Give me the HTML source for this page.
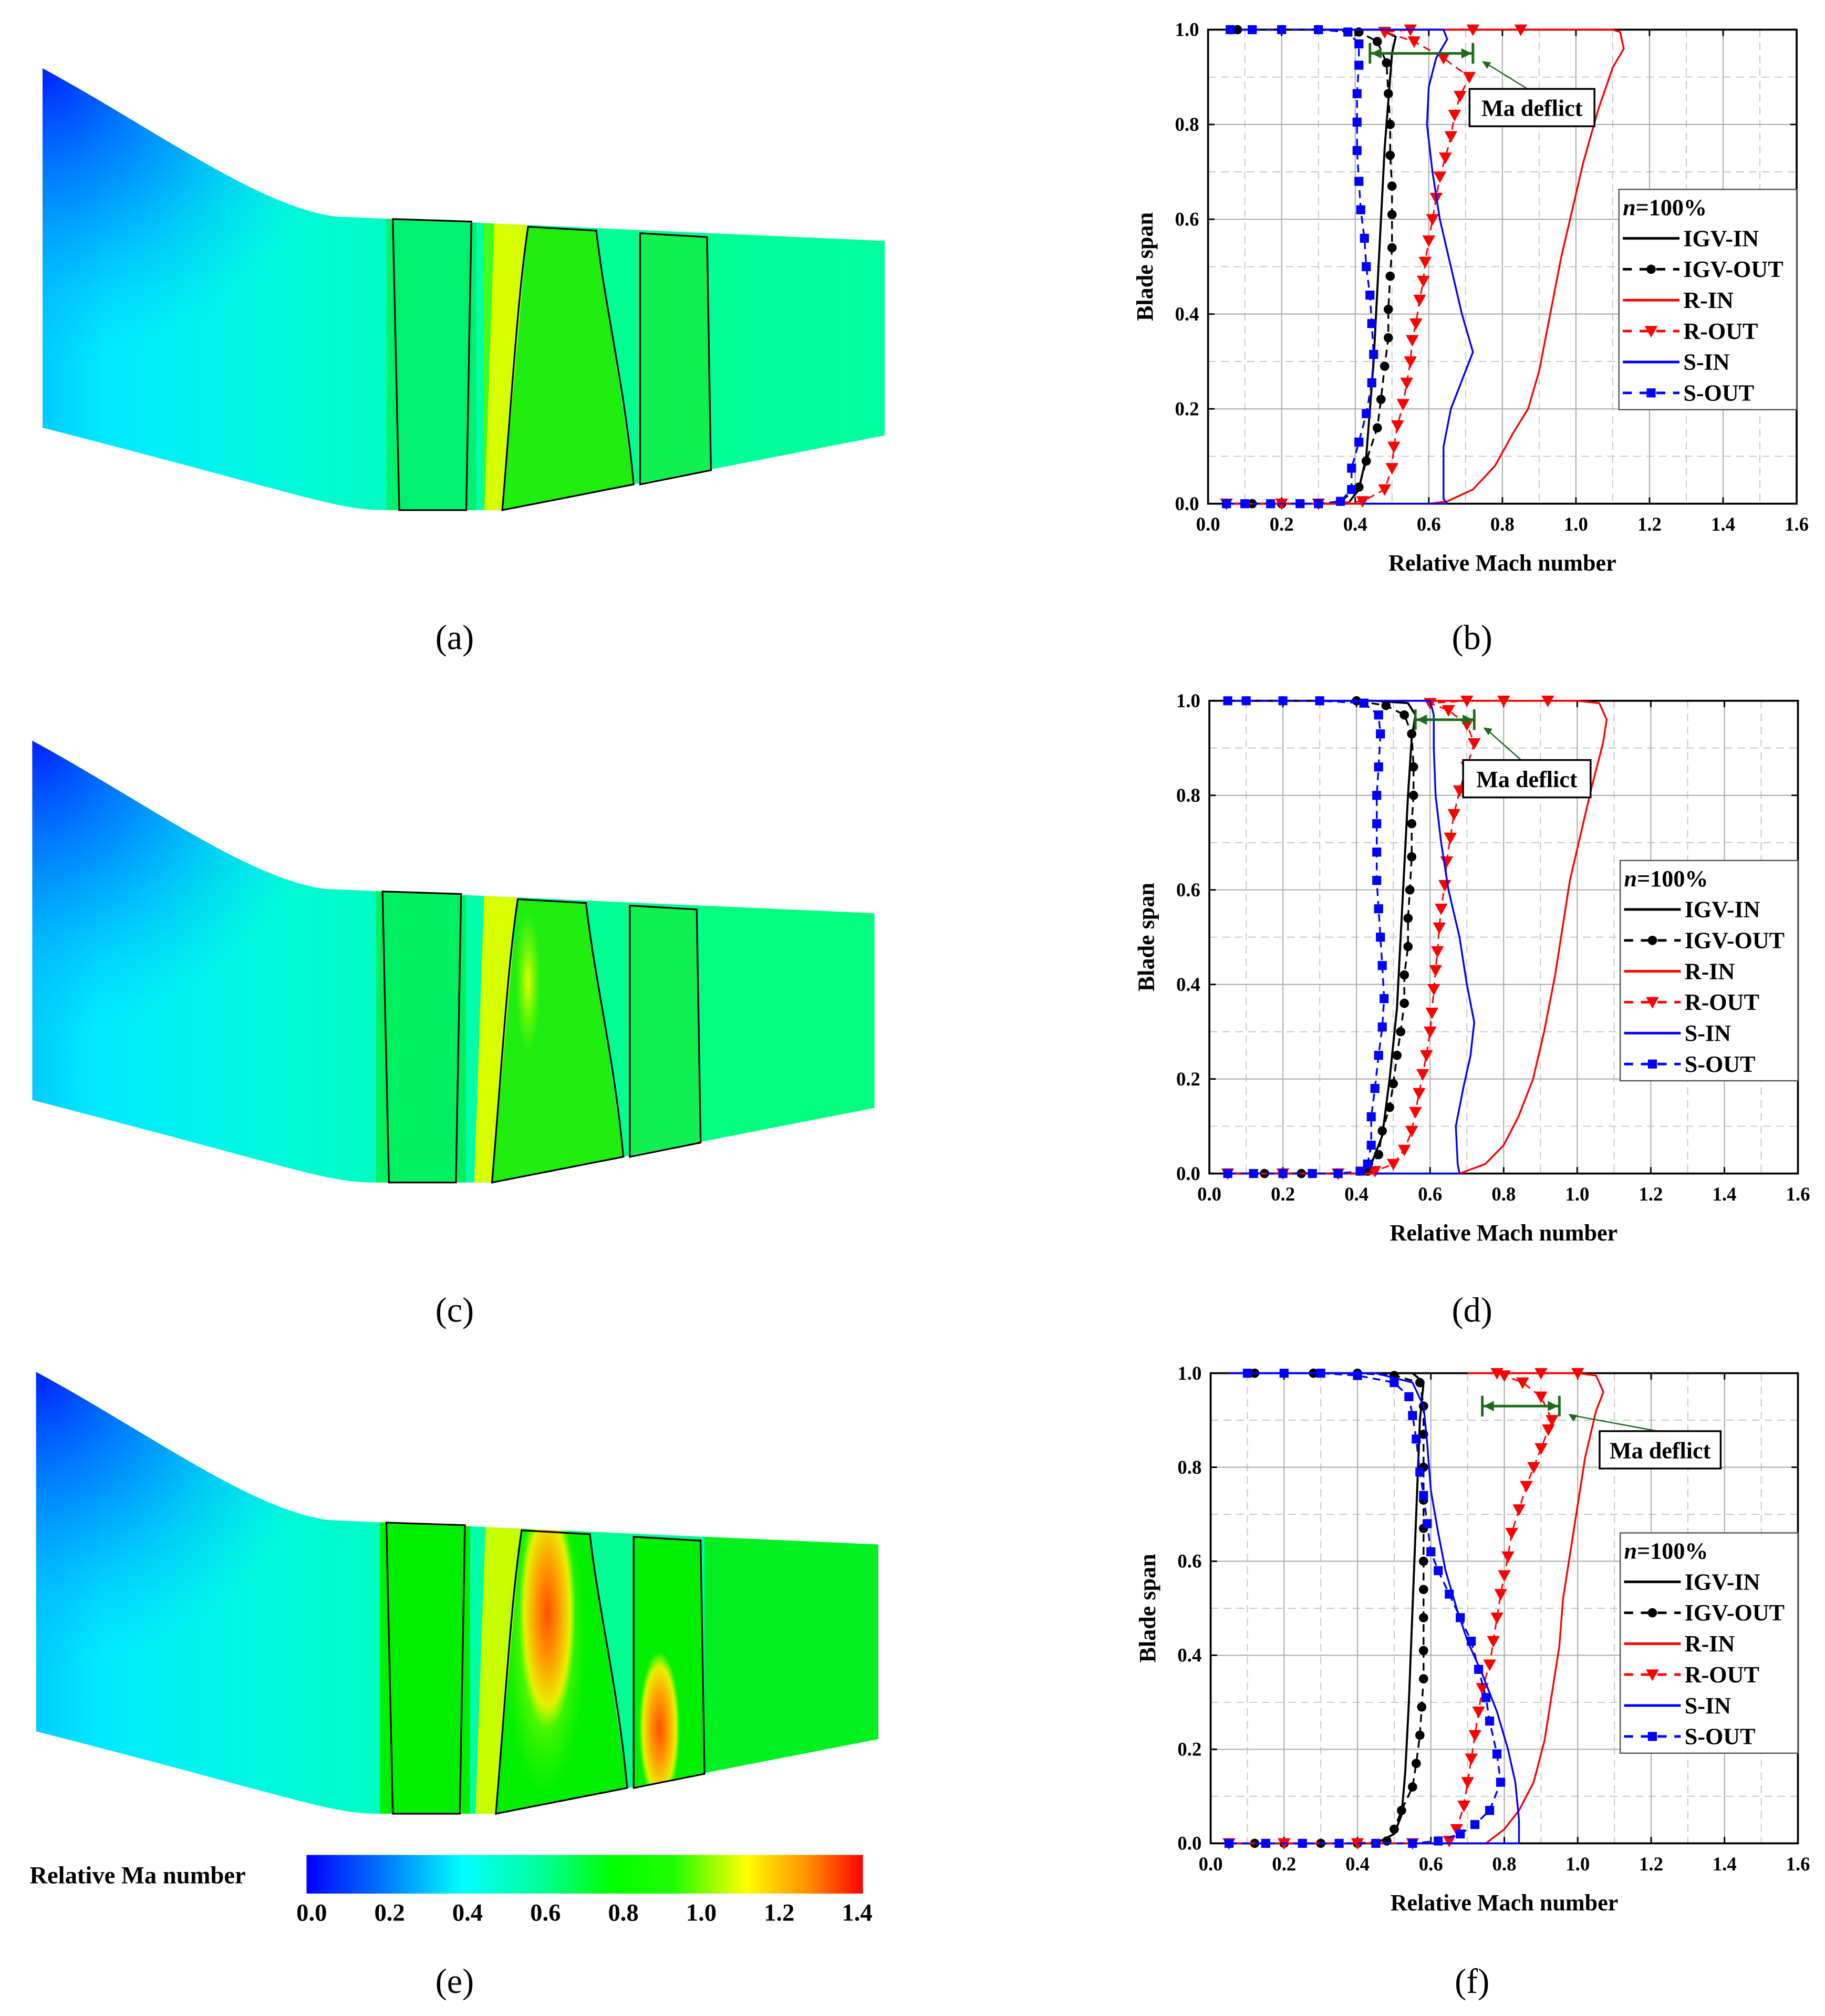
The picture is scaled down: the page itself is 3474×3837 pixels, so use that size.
<!DOCTYPE html>
<html><head><meta charset="utf-8"><style>
html,body{margin:0;padding:0;background:#fff;}
svg{display:block;}
text{font-family:"Liberation Serif",serif;}
</style></head><body>
<svg id="fig" width="3474" height="3837" viewBox="0 0 1417 1565" xmlns="http://www.w3.org/2000/svg">
<defs>
<linearGradient id="baseG" x1="0" y1="0" x2="1" y2="0">
<stop offset="0" stop-color="#00b8ff"/><stop offset="0.12" stop-color="#00eaff"/><stop offset="0.3" stop-color="#00f8e0"/>
<stop offset="0.5" stop-color="#00ffb0"/><stop offset="0.7" stop-color="#00ff90"/><stop offset="1" stop-color="#00ffa0"/></linearGradient>
<radialGradient id="blueG" cx="33" cy="53" r="230" gradientUnits="userSpaceOnUse">
<stop offset="0" stop-color="#0020ff" stop-opacity="1"/><stop offset="0.5" stop-color="#0080ff" stop-opacity="0.7"/><stop offset="1" stop-color="#00c0ff" stop-opacity="0"/></radialGradient>
<linearGradient id="cbarG" x1="0" y1="0" x2="1" y2="0">
<stop offset="0" stop-color="#0000ff"/><stop offset="0.14" stop-color="#0078ff"/><stop offset="0.28" stop-color="#00ffff"/>
<stop offset="0.43" stop-color="#00ff90"/><stop offset="0.55" stop-color="#00ff00"/><stop offset="0.66" stop-color="#20ff00"/>
<stop offset="0.79" stop-color="#ffff00"/><stop offset="0.9" stop-color="#ff9000"/><stop offset="1" stop-color="#ff0000"/></linearGradient>
<radialGradient id="hotG"><stop offset="0" stop-color="#ff5000"/><stop offset="0.45" stop-color="#ffa000"/><stop offset="0.8" stop-color="#e8f000"/><stop offset="1" stop-color="#c0ff00" stop-opacity="0"/></radialGradient>
<radialGradient id="warmG"><stop offset="0" stop-color="#e8ff00"/><stop offset="1" stop-color="#80ff00" stop-opacity="0"/></radialGradient>
<clipPath id="ductClip"><path d="M33,53 C120,100 200,160 260,168 L687,187 L687,338 L390,396 L300,396 C260,396 240,385 33,332 Z"/></clipPath>
</defs>

<g id="contourA">
 <g clip-path="url(#ductClip)">
  <rect x="0" y="0" width="700" height="400" fill="url(#baseG)"/>
  <rect x="0" y="0" width="700" height="400" fill="url(#blueG)"/>
  <rect x="300" y="150" width="70" height="260" fill="#00f070"/>
  <rect x="375" y="150" width="10" height="260" fill="#40ff20"/>
  <polygon points="384,170 410,170 390,400 376,400" fill="#d8ff00"/>
  <polygon points="410,176 463,179 492,376 390,396" fill="#20ee10"/>
  <polygon points="497,181 549,184 552,365 497,376" fill="#10f050"/>
 </g>
 <g fill="none" stroke="#000" stroke-width="1.3">
  <polygon points="305,170 366,172 362,396 310,396"/>
  <path d="M410,176 L463,179 C470,240 485,300 492,376 L390,396 C398,300 402,230 410,176 Z"/>
  <polygon points="497,181 549,184 552,365 497,376"/>
 </g>
</g>
<g id="contourC" transform="translate(-8,522)">
 <g clip-path="url(#ductClip)">
  <rect x="0" y="0" width="700" height="400" fill="url(#baseG)"/>
  <rect x="0" y="0" width="700" height="400" fill="url(#blueG)"/>
  <rect x="300" y="150" width="70" height="260" fill="#00f060"/>
  <polygon points="384,170 410,170 390,400 376,400" fill="#d8ff00"/>
  <polygon points="410,176 463,179 492,376 390,396" fill="#20ee10"/>
  <ellipse cx="418" cy="240" rx="10" ry="55" fill="url(#warmG)"/>
  <polygon points="497,181 549,184 552,365 497,376" fill="#10f050"/>
  <rect x="552" y="180" width="140" height="220" fill="#00ff80"/>
 </g>
 <g fill="none" stroke="#000" stroke-width="1.3">
  <polygon points="305,170 366,172 362,396 310,396"/>
  <path d="M410,176 L463,179 C470,240 485,300 492,376 L390,396 C398,300 402,230 410,176 Z"/>
  <polygon points="497,181 549,184 552,365 497,376"/>
 </g>
</g>
<g id="contourE" transform="translate(-5,1012)">
 <g clip-path="url(#ductClip)">
  <rect x="0" y="0" width="700" height="400" fill="url(#baseG)"/>
  <rect x="0" y="0" width="700" height="400" fill="url(#blueG)"/>
  <rect x="300" y="150" width="70" height="260" fill="#00f000"/>
  <polygon points="382,170 410,170 390,400 374,400" fill="#c8ff00"/>
  <polygon points="410,176 463,179 492,376 390,396" fill="#00f000"/>
  <ellipse cx="428" cy="260" rx="32" ry="120" fill="url(#warmG)"/>
  <ellipse cx="430" cy="240" rx="22" ry="90" fill="url(#hotG)"/>
  <polygon points="497,181 549,184 552,365 497,376" fill="#00f000"/>
  <ellipse cx="517" cy="330" rx="16" ry="60" fill="url(#hotG)"/>
  <rect x="552" y="180" width="140" height="220" fill="#00f020"/>
 </g>
 <g fill="none" stroke="#000" stroke-width="1.3">
  <polygon points="305,170 366,172 362,396 310,396"/>
  <path d="M410,176 L463,179 C470,240 485,300 492,376 L390,396 C398,300 402,230 410,176 Z"/>
  <polygon points="497,181 549,184 552,365 497,376"/>
 </g>
</g>

<g id="colorbar">
 <text x="23" y="1462" font-size="19" font-weight="bold">Relative Ma number</text>
 <rect x="238" y="1440" width="432" height="30" fill="url(#cbarG)"/>
</g>

<g font-size="27" text-anchor="middle">
 <text x="353" y="504">(a)</text>
 <text x="1143" y="504">(b)</text>
 <text x="353" y="1026">(c)</text>
 <text x="1143" y="1026">(d)</text>
 <text x="353" y="1547">(e)</text>
 <text x="1143" y="1547">(f)</text>
</g>
<g id="charts"></g>
</svg>
<script>
// ---- colorbar ticks ----
const cbarTicks = ["0.0","0.2","0.4","0.6","0.8","1.0","1.2","1.4"];
// ---- chart tick values ----
const xTicks = [0,0.2,0.4,0.6,0.8,1.0,1.2,1.4,1.6];
const yTicks = [0,0.2,0.4,0.6,0.8,1.0];
const seriesNames = ["IGV-IN","IGV-OUT","R-IN","R-OUT","S-IN","S-OUT"];
// ---- chart b data: [mach, span] ----
const bIgvIn = [[0.05,0],[0.38,0],[0.41,0.03],[0.43,0.1],[0.44,0.2],[0.45,0.3],[0.46,0.45],[0.47,0.6],[0.48,0.75],[0.49,0.85],[0.5,0.95],[0.51,0.985],[0.47,1],[0.05,1]];
const bIgvOut = [[0.05,0],[0.12,0],[0.2,0],[0.3,0],[0.36,0.005],[0.41,0.035],[0.43,0.09],[0.46,0.16],[0.47,0.22],[0.48,0.29],[0.49,0.35],[0.49,0.41],[0.495,0.48],[0.5,0.54],[0.5,0.61],[0.5,0.67],[0.495,0.735],[0.495,0.8],[0.49,0.865],[0.485,0.93],[0.46,0.975],[0.41,0.995],[0.3,1],[0.2,1],[0.08,1]];
const bRIn = [[0.05,0],[0.6,0],[0.65,0.005],[0.72,0.03],[0.78,0.08],[0.83,0.15],[0.87,0.2],[0.9,0.28],[0.93,0.4],[0.96,0.52],[0.99,0.62],[1.02,0.72],[1.06,0.83],[1.1,0.92],[1.13,0.96],[1.12,0.995],[1.1,1],[0.6,1]];
const bROut = [[0.05,0],[0.2,0],[0.3,0],[0.42,0.005],[0.48,0.03],[0.5,0.075],[0.505,0.12],[0.515,0.165],[0.53,0.21],[0.54,0.255],[0.55,0.3],[0.555,0.345],[0.565,0.38],[0.575,0.43],[0.585,0.47],[0.59,0.51],[0.6,0.555],[0.61,0.6],[0.62,0.645],[0.63,0.69],[0.645,0.73],[0.66,0.775],[0.67,0.82],[0.685,0.86],[0.71,0.9],[0.64,0.94],[0.56,0.975],[0.48,0.995],[0.55,1],[0.72,1],[0.85,1]];
const bSIn = [[0.42,0],[0.65,0],[0.64,0.01],[0.64,0.12],[0.66,0.2],[0.7,0.28],[0.72,0.32],[0.69,0.4],[0.66,0.5],[0.63,0.6],[0.61,0.7],[0.595,0.8],[0.6,0.88],[0.62,0.94],[0.65,0.98],[0.64,1],[0.3,1]];
const bSOut = [[0.05,0],[0.1,0],[0.17,0],[0.25,0],[0.3,0],[0.36,0.005],[0.39,0.03],[0.39,0.075],[0.41,0.13],[0.43,0.19],[0.445,0.255],[0.45,0.315],[0.445,0.38],[0.44,0.44],[0.43,0.5],[0.425,0.56],[0.415,0.62],[0.41,0.68],[0.405,0.745],[0.405,0.805],[0.405,0.865],[0.41,0.925],[0.41,0.97],[0.38,0.995],[0.3,1],[0.2,1],[0.12,1],[0.06,1]];
// ---- chart d data ----
const dIgvIn = [[0.05,0],[0.4,0],[0.44,0.02],[0.47,0.08],[0.49,0.2],[0.51,0.35],[0.52,0.5],[0.53,0.65],[0.54,0.8],[0.55,0.92],[0.56,0.97],[0.54,0.995],[0.45,1],[0.05,1]];
const dIgvOut = [[0.05,0],[0.15,0],[0.25,0],[0.35,0],[0.43,0.005],[0.46,0.04],[0.47,0.09],[0.49,0.14],[0.5,0.19],[0.51,0.25],[0.52,0.3],[0.53,0.36],[0.53,0.42],[0.54,0.48],[0.54,0.54],[0.545,0.6],[0.55,0.67],[0.55,0.74],[0.555,0.8],[0.555,0.86],[0.55,0.93],[0.53,0.97],[0.48,0.99],[0.4,1],[0.3,1],[0.2,1]];
const dRIn = [[0.05,0],[0.68,0],[0.75,0.02],[0.8,0.06],[0.84,0.12],[0.88,0.2],[0.91,0.3],[0.94,0.42],[0.96,0.52],[0.98,0.62],[1.01,0.72],[1.04,0.82],[1.07,0.91],[1.08,0.96],[1.06,0.995],[1.0,1],[0.6,1]];
const dROut = [[0.05,0],[0.2,0],[0.35,0],[0.45,0.005],[0.5,0.02],[0.53,0.05],[0.55,0.09],[0.56,0.13],[0.57,0.17],[0.58,0.21],[0.59,0.25],[0.6,0.3],[0.605,0.34],[0.61,0.39],[0.615,0.43],[0.62,0.47],[0.625,0.52],[0.63,0.56],[0.64,0.61],[0.645,0.66],[0.655,0.71],[0.665,0.76],[0.68,0.81],[0.7,0.86],[0.72,0.91],[0.7,0.95],[0.65,0.98],[0.6,0.995],[0.7,1],[0.8,1],[0.92,1]];
const dSIn = [[0.45,0],[0.68,0],[0.675,0.02],[0.67,0.1],[0.69,0.18],[0.71,0.25],[0.72,0.32],[0.7,0.4],[0.68,0.5],[0.65,0.6],[0.63,0.7],[0.615,0.8],[0.61,0.9],[0.61,0.97],[0.6,1],[0.3,1]];
const dSOut = [[0.05,0],[0.12,0],[0.2,0],[0.28,0],[0.35,0],[0.41,0.005],[0.43,0.02],[0.44,0.06],[0.44,0.12],[0.45,0.18],[0.46,0.25],[0.47,0.31],[0.475,0.37],[0.47,0.44],[0.465,0.5],[0.46,0.56],[0.455,0.62],[0.455,0.68],[0.455,0.74],[0.455,0.8],[0.46,0.86],[0.465,0.93],[0.46,0.97],[0.42,0.995],[0.3,1],[0.2,1],[0.1,1],[0.05,1]];
// ---- chart f data ----
const fIgvIn = [[0.05,0],[0.45,0],[0.5,0.02],[0.52,0.06],[0.53,0.15],[0.54,0.3],[0.55,0.5],[0.56,0.7],[0.57,0.9],[0.58,0.98],[0.55,1],[0.3,1],[0.05,1]];
const fIgvOut = [[0.05,0],[0.12,0],[0.2,0],[0.3,0],[0.4,0],[0.48,0.005],[0.5,0.03],[0.52,0.07],[0.55,0.12],[0.56,0.17],[0.57,0.23],[0.575,0.29],[0.58,0.35],[0.58,0.41],[0.58,0.48],[0.58,0.54],[0.58,0.6],[0.58,0.67],[0.58,0.73],[0.58,0.8],[0.58,0.87],[0.58,0.93],[0.57,0.98],[0.5,0.995],[0.4,1],[0.28,1],[0.12,1]];
const fRIn = [[0.05,0],[0.75,0],[0.8,0.03],[0.84,0.07],[0.88,0.13],[0.91,0.22],[0.93,0.32],[0.95,0.42],[0.96,0.52],[0.98,0.62],[1.0,0.72],[1.02,0.82],[1.05,0.92],[1.07,0.96],[1.05,0.995],[1.0,1],[0.7,1]];
const fROut = [[0.05,0],[0.2,0],[0.4,0],[0.55,0],[0.65,0.005],[0.67,0.03],[0.69,0.08],[0.7,0.13],[0.71,0.18],[0.72,0.23],[0.73,0.28],[0.74,0.33],[0.76,0.38],[0.77,0.43],[0.78,0.48],[0.79,0.53],[0.8,0.57],[0.81,0.61],[0.82,0.66],[0.84,0.71],[0.86,0.76],[0.88,0.8],[0.9,0.84],[0.92,0.88],[0.93,0.9],[0.9,0.95],[0.85,0.98],[0.8,0.995],[0.78,1],[0.9,1],[1.0,1]];
const fSIn = [[0.55,0],[0.84,0],[0.84,0.05],[0.83,0.13],[0.81,0.2],[0.78,0.28],[0.74,0.36],[0.7,0.43],[0.67,0.5],[0.64,0.58],[0.62,0.66],[0.6,0.75],[0.59,0.85],[0.58,0.93],[0.55,0.98],[0.45,1],[0.3,1],[0.05,1]];
const fSOut = [[0.05,0],[0.15,0],[0.25,0],[0.35,0],[0.45,0],[0.55,0],[0.62,0.005],[0.68,0.02],[0.72,0.04],[0.76,0.07],[0.79,0.13],[0.78,0.19],[0.76,0.26],[0.75,0.31],[0.73,0.37],[0.71,0.43],[0.68,0.48],[0.65,0.53],[0.62,0.58],[0.6,0.62],[0.59,0.68],[0.58,0.74],[0.57,0.79],[0.56,0.86],[0.55,0.91],[0.54,0.95],[0.5,0.98],[0.4,0.995],[0.3,1],[0.2,1],[0.1,1]];
// ---- annotation data (mach range of "Ma deflict" arrow, span) ----
const bDeflict = [0.44,0.72,0.95];
const dDeflict = [0.56,0.72,0.96];
const fDeflict = [0.74,0.95,0.93];

const NS="http://www.w3.org/2000/svg";
function mk(tag,attrs,parent){const e=document.createElementNS(NS,tag);for(const k in attrs)e.setAttribute(k,attrs[k]);if(parent)parent.appendChild(e);return e;}
const styles=[
 {color:"#000",dash:null,marker:null,w:1.6},
 {color:"#000",dash:"6,4",marker:"circle",w:1.4},
 {color:"#ff0000",dash:null,marker:null,w:1.4},
 {color:"#ff0000",dash:"6,4",marker:"tri",w:1.2},
 {color:"#0000ff",dash:null,marker:null,w:1.4},
 {color:"#0000ff",dash:"6,4",marker:"square",w:1.4}];

function drawMarker(g,type,x,y,color){
 let m;
 if(type==="circle"){m=mk("circle",{cx:x,cy:y,r:3.6,fill:color},g);}
 else if(type==="tri"){m=mk("polygon",{points:`${x-5},${y-4} ${x+5},${y-4} ${x},${y+5}`,fill:color},g);}
 else {m=mk("rect",{x:x-3.5,y:y-3.5,width:7,height:7,fill:color},g);}
 
 
}

function drawChart(id,x0,x1,yT,yB,series,defl,box){
 const root=document.getElementById("charts");
 const g=mk("g",{},root);
 
 
 const X=v=>x0+(v/1.6)*(x1-x0), Y=v=>yB-v*(yB-yT);
 for(let i=1;i<16;i+=2) mk("line",{x1:X(i*0.1),x2:X(i*0.1),y1:yT,y2:yB,stroke:"#c8c8c8","stroke-width":0.8,"stroke-dasharray":"6,4"},g);
 for(let i=1;i<10;i+=2) mk("line",{x1:x0,x2:x1,y1:Y(i*0.1),y2:Y(i*0.1),stroke:"#c8c8c8","stroke-width":0.8,"stroke-dasharray":"6,4"},g);
 xTicks.forEach(v=>{mk("line",{x1:X(v),x2:X(v),y1:yT,y2:yB,stroke:"#a8a8a8","stroke-width":0.8},g);
  mk("line",{x1:X(v),x2:X(v),y1:yB,y2:yB-5,stroke:"#000","stroke-width":1.2},g);
  mk("line",{x1:X(v),x2:X(v),y1:yT,y2:yT+5,stroke:"#000","stroke-width":1.2},g);
  const t=mk("text",{x:X(v),y:yB+21,"font-size":15,"font-weight":"bold","text-anchor":"middle"},g);t.textContent=v.toFixed(1);
  
  });
 yTicks.forEach(v=>{mk("line",{x1:x0,x2:x1,y1:Y(v),y2:Y(v),stroke:"#a8a8a8","stroke-width":0.8},g);
  mk("line",{x1:x0,x2:x0+5,y1:Y(v),y2:Y(v),stroke:"#000","stroke-width":1.2},g);
  mk("line",{x1:x1,x2:x1-5,y1:Y(v),y2:Y(v),stroke:"#000","stroke-width":1.2},g);
  const t=mk("text",{x:x0-7,y:Y(v)+5,"font-size":15,"font-weight":"bold","text-anchor":"end"},g);t.textContent=v.toFixed(1);
  
  });
 const frame=mk("rect",{x:x0,y:yT,width:x1-x0,height:yB-yT,fill:"none",stroke:"#000","stroke-width":1.5},g);
 
 
 const yt=mk("text",{x:0,y:0,"font-size":18,"font-weight":"bold","text-anchor":"middle",transform:`translate(${x0-43},${(yT+yB)/2}) rotate(-90)`},g);yt.textContent="Blade span";
 
 
 const xt=mk("text",{x:(x0+x1)/2,y:yB+52,"font-size":18,"font-weight":"bold","text-anchor":"middle"},g);xt.textContent="Relative Mach number";
 
 
 series.forEach((d,i)=>{const s=styles[i];
  const sg=mk("g",{},g);
  
  
  const a={points:d.map(p=>X(p[0])+","+Y(p[1])).join(" "),fill:"none",stroke:s.color,"stroke-width":s.w,"stroke-linejoin":"round"};
  if(s.dash)a["stroke-dasharray"]=s.dash;
  mk("polyline",a,sg);
  if(s.marker)d.forEach(p=>drawMarker(sg,s.marker,X(p[0]),Y(p[1]),s.color));
 });
 const ag=mk("g",{},g);
 
 
 const ax0=X(defl[0]),ax1=X(defl[1]),ay=Y(defl[2]);
 mk("line",{x1:ax0,x2:ax1,y1:ay,y2:ay,stroke:"#1a6b1a","stroke-width":2},ag);
 mk("line",{x1:ax0,x2:ax0,y1:ay-8,y2:ay+8,stroke:"#1a6b1a","stroke-width":2},ag);
 mk("line",{x1:ax1,x2:ax1,y1:ay-8,y2:ay+8,stroke:"#1a6b1a","stroke-width":2},ag);
 mk("polygon",{points:`${ax0+1},${ay} ${ax0+9},${ay-4} ${ax0+9},${ay+4}`,fill:"#1a6b1a"},ag);
 mk("polygon",{points:`${ax1-1},${ay} ${ax1-9},${ay-4} ${ax1-9},${ay+4}`,fill:"#1a6b1a"},ag);
 mk("line",{x1:box[0]+45,y1:box[1],x2:ax1+9,y2:ay+7,stroke:"#1a6b1a","stroke-width":1},ag);
 mk("polygon",{points:`${ax1+7},${ay+6} ${ax1+14},${ay+7} ${ax1+11},${ay+12}`,fill:"#1a6b1a"},ag);
 mk("rect",{x:box[0],y:box[1],width:box[2],height:29,fill:"#fff",stroke:"#000","stroke-width":1.4},ag);
 const bt=mk("text",{x:box[0]+box[2]/2,y:box[1]+21,"font-size":18,"font-weight":"bold","text-anchor":"middle"},ag);bt.textContent="Ma deflict";
 const lg=mk("g",{},g);
 
 
 const lx=x1-138, ly=yT+124;
 mk("rect",{x:lx,y:ly,width:138,height:171,fill:"#fff",stroke:"#555","stroke-width":1},lg);
 const nt=mk("text",{x:lx+3,y:ly+20,"font-size":18,"font-weight":"bold"},lg);
 nt.innerHTML='<tspan font-style="italic">n</tspan>=100%';
 seriesNames.forEach((n,i)=>{const s=styles[i],yy=ly+38+i*24;
  const e=mk("g",{},lg);
  
  
  const a={x1:lx+3,x2:lx+47,y1:yy,y2:yy,stroke:s.color,"stroke-width":2};
  if(s.dash)a["stroke-dasharray"]="7,6";
  mk("line",a,e);
  if(s.marker)drawMarker(e,s.marker,lx+25,yy,s.color);
  const t=mk("text",{x:lx+50,y:yy+6,"font-size":18,"font-weight":"bold"},e);t.textContent=n;});
}
drawChart("b",938,1395,23,391,[bIgvIn,bIgvOut,bRIn,bROut,bSIn,bSOut],bDeflict,[1141,69,97]);
drawChart("d",939,1396,544,911,[dIgvIn,dIgvOut,dRIn,dROut,dSIn,dSOut],dDeflict,[1136,590,99]);
drawChart("f",940,1396,1066,1431,[fIgvIn,fIgvOut,fRIn,fROut,fSIn,fSOut],fDeflict,[1242,1111,94]);

const cb=document.getElementById("colorbar");
cbarTicks.forEach((l,i)=>{const t=mk("text",{x:242+i*60.5,y:1491,"font-size":19,"font-weight":"bold","text-anchor":"middle"},cb);t.textContent=l;
 
 });
</script>
</body></html>
